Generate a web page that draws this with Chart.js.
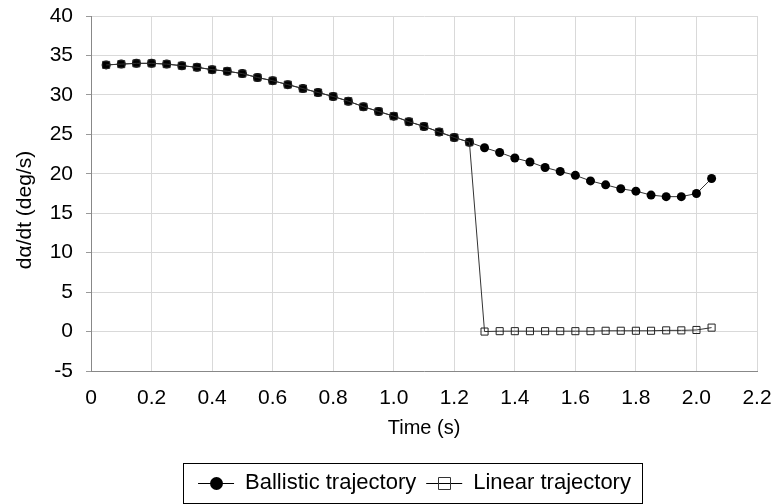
<!DOCTYPE html>
<html>
<head>
<meta charset="utf-8">
<script src="https://cdn.jsdelivr.net/npm/chart.js@4.4.0/dist/chart.umd.min.js"></script>
<style>
  html, body { margin: 0; padding: 0; background: #fff; }
  #wrap { width: 776px; height: 504px; }
</style>
</head>
<body>
<div id="wrap"><canvas id="chart" width="776" height="504"></canvas></div>
<script>
// time samples (s)
const times = [0.05, 0.10, 0.15, 0.20, 0.25, 0.30, 0.35, 0.40, 0.45, 0.50,
               0.55, 0.60, 0.65, 0.70, 0.75, 0.80, 0.85, 0.90, 0.95, 1.00,
               1.05, 1.10, 1.15, 1.20, 1.25, 1.30, 1.35, 1.40, 1.45, 1.50,
               1.55, 1.60, 1.65, 1.70, 1.75, 1.80, 1.85, 1.90, 1.95, 2.00, 2.05];

// dα/dt (deg/s)
const ballistic = [33.8, 33.9, 34.0, 34.0, 33.9, 33.7, 33.5, 33.2, 33.0, 32.7,
                   32.2, 31.8, 31.3, 30.8, 30.3, 29.8, 29.2, 28.5, 27.9, 27.3,
                   26.6, 26.0, 25.3, 24.6, 24.0, 23.3, 22.7, 22.0, 21.5, 20.8,
                   20.3, 19.8, 19.1, 18.6, 18.1, 17.8, 17.3, 17.1, 17.1, 17.5, 19.4];

const linear = [33.8, 33.9, 34.0, 34.0, 33.9, 33.7, 33.5, 33.2, 33.0, 32.7,
                32.2, 31.8, 31.3, 30.8, 30.3, 29.8, 29.2, 28.5, 27.9, 27.3,
                26.6, 26.0, 25.3, 24.6, 24.0, 0.0, 0.05, 0.05, 0.05, 0.05,
                0.05, 0.05, 0.05, 0.1, 0.1, 0.1, 0.1, 0.15, 0.15, 0.2, 0.5];

const seriesNames = ['Ballistic trajectory', 'Linear trajectory'];
const xTicks = [0, 0.2, 0.4, 0.6, 0.8, 1.0, 1.2, 1.4, 1.6, 1.8, 2.0, 2.2];
const yTicks = [-5, 0, 5, 10, 15, 20, 25, 30, 35, 40];
const yTitle = 'dα/dt (deg/s)';
const xTitle = 'Time (s)';

const FONT = "'Liberation Sans', Arial, sans-serif";
const toXY = arr => arr.map((v, i) => ({ x: times[i], y: v }));

// y title sits a bit below the middle of the plot, like the original
const yTitlePlugin = {
    id: 'yTitle',
    afterDraw(chart) {
        const ctx = chart.ctx;
        ctx.save();
        ctx.translate(25, 210);
        ctx.rotate(-Math.PI / 2);
        ctx.font = '21px ' + FONT;
        ctx.fillStyle = '#000';
        ctx.textAlign = 'center';
        ctx.textBaseline = 'middle';
        ctx.fillText(yTitle, 0, 0);
        ctx.restore();
    }
};

// legend: shift it a little right, draw line+marker samples and the frame
const legendDeco = {
    id: 'legendDeco',
    afterLayout(chart) {
        const lg = chart.legend;
        if (!lg) return;
        lg.left += 31;
        lg.right += 31;
    },
    afterDraw(chart) {
        const lg = chart.legend;
        if (!lg || !lg.legendHitBoxes?.length) return;
        const ctx = chart.ctx;
        const boxes = lg.legendHitBoxes;
        const bw = lg.options.labels.boxWidth;
        ctx.save();
        boxes.forEach((b, i) => {
            const ds = chart.data.datasets[i];
            const cy = Math.round(b.top + b.height / 2) + 0.5;
            ctx.strokeStyle = '#000';
            ctx.lineWidth = 1;
            ctx.beginPath();
            ctx.moveTo(b.left, cy);
            ctx.lineTo(b.left + bw, cy);
            ctx.stroke();
            const cx = Math.round(b.left + bw / 2) + 0.5;
            ctx.beginPath();
            if (ds.pointStyle === 'circle') {
                ctx.fillStyle = '#000';
                ctx.arc(cx, cy, 6.5, 0, Math.PI * 2);
                ctx.fill();
            } else {
                ctx.strokeStyle = '#333';
                ctx.rect(cx - 6, cy - 6, 12, 12);
                ctx.stroke();
            }
        });
        const l = boxes[0].left - 15;
        const r = boxes[boxes.length - 1].left + boxes[boxes.length - 1].width + 11;
        const t = boxes[0].top - 9;
        const bt = boxes[0].top + boxes[0].height + 9;
        ctx.strokeStyle = '#000';
        ctx.lineWidth = 1;
        ctx.strokeRect(Math.round(l) + 0.5, Math.round(t) + 0.5, Math.round(r - l), Math.round(bt - t));
        ctx.restore();
    }
};

new Chart(document.getElementById('chart'), {
    type: 'scatter',
    data: {
        datasets: [
            {
                label: seriesNames[0],
                data: toXY(ballistic),
                showLine: true,
                borderColor: '#333',
                borderWidth: 1,
                pointStyle: 'circle',
                pointRadius: 4.5,
                pointBackgroundColor: '#000',
                pointBorderColor: '#000',
                pointBorderWidth: 0,
                order: 2
            },
            {
                label: seriesNames[1],
                data: toXY(linear),
                showLine: true,
                borderColor: '#333',
                borderWidth: 1,
                pointStyle: 'rect',
                pointRadius: 5,
                pointBackgroundColor: 'rgba(0,0,0,0)',
                pointBorderColor: '#222',
                pointBorderWidth: 1,
                order: 1
            }
        ]
    },
    options: {
        responsive: false,
        animation: false,
        layout: { padding: { left: 10, right: 19, top: 16, bottom: 0 } },
        plugins: {
            tooltip: { enabled: false },
            legend: {
                position: 'bottom',
                labels: {
                    font: { family: FONT, size: 22 },
                    color: '#000',
                    boxWidth: 36,
                    boxHeight: 12,
                    padding: 10,
                    generateLabels: chart => chart.data.datasets.map((ds, i) => ({
                        text: ds.label,
                        datasetIndex: i,
                        fillStyle: 'rgba(0,0,0,0)',
                        strokeStyle: 'rgba(0,0,0,0)',
                        lineWidth: 0,
                        fontColor: '#000',
                        hidden: false
                    }))
                }
            }
        },
        scales: {
            x: {
                type: 'linear',
                min: 0,
                max: 2.2,
                afterBuildTicks: s => { s.ticks = xTicks.map(v => ({ value: v })); },
                ticks: {
                    font: { family: FONT, size: 21 },
                    color: '#000',
                    padding: 15,
                    maxRotation: 0,
                    callback: v => v === 0 ? '0' : v.toFixed(1)
                },
                grid: { color: '#d9d9d9', drawTicks: false },
                border: { color: '#888' },
                title: {
                    display: true,
                    text: xTitle,
                    font: { family: FONT, size: 20 },
                    color: '#000',
                    padding: { top: 0, bottom: 22 }
                },
                afterFit: s => {
                    s.height = 91;
                    s.paddingLeft = 0;
                    s.paddingRight = 0;
                }
            },
            y: {
                min: -5,
                max: 40,
                afterBuildTicks: s => { s.ticks = yTicks.map(v => ({ value: v })); },
                ticks: {
                    font: { family: FONT, size: 21 },
                    color: '#000',
                    padding: 13
                },
                grid: { color: '#d9d9d9', tickLength: 5, tickColor: '#999' },
                border: { color: '#888' },
                afterFit: s => {
                    s.width = 81;
                    s.paddingTop = 0;
                    s.paddingBottom = 0;
                }
            }
        }
    },
    plugins: [legendDeco, yTitlePlugin]
});
</script>
</body>
</html>
